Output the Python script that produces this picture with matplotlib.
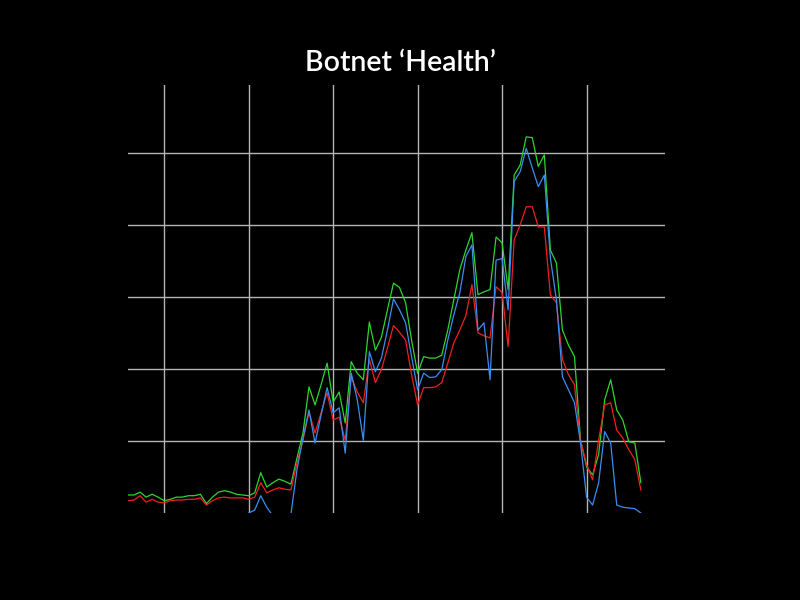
import numpy as np
import matplotlib
matplotlib.use('Agg')
from matplotlib import pyplot as plt

# daily samples, three series (no axis labels on the original)
days = np.arange(86)

green = [0.25, 0.25, 0.29, 0.22, 0.26, 0.22, 0.17, 0.19, 0.22, 0.22,
         0.24, 0.24, 0.26, 0.13, 0.22, 0.29, 0.31, 0.29, 0.26, 0.25,
         0.24, 0.28, 0.56, 0.36, 0.42, 0.47, 0.44, 0.40, 0.76, 1.11,
         1.75, 1.50, 1.78, 2.08, 1.54, 1.68, 1.25, 2.10, 1.94, 1.85,
         2.65, 2.26, 2.44, 2.82, 3.19, 3.13, 2.92, 2.40, 1.94, 2.17,
         2.15, 2.15, 2.19, 2.54, 2.96, 3.38, 3.65, 3.89, 3.03, 3.07,
         3.10, 3.83, 3.75, 3.10, 4.69, 4.83, 5.22, 5.21, 4.81, 4.97,
         3.65, 3.47, 2.54, 2.33, 2.17, 1.01, 0.64, 0.53, 0.81, 1.57,
         1.85, 1.43, 1.29, 0.99, 0.97, 0.42]

red = [0.17, 0.18, 0.24, 0.15, 0.19, 0.15, 0.14, 0.17, 0.18, 0.18,
       0.19, 0.19, 0.21, 0.11, 0.17, 0.21, 0.22, 0.21, 0.21, 0.21,
       0.19, 0.22, 0.42, 0.28, 0.32, 0.35, 0.33, 0.32, 0.69, 1.01,
       1.40, 1.11, 1.39, 1.67, 1.29, 1.33, 1.01, 1.89, 1.68, 1.53,
       2.13, 1.81, 1.99, 2.29, 2.60, 2.51, 2.40, 1.92, 1.50, 1.74,
       1.74, 1.75, 1.81, 2.08, 2.36, 2.54, 2.74, 3.17, 2.50, 2.46,
       2.43, 3.14, 3.06, 2.31, 3.79, 4.00, 4.25, 4.25, 3.97, 3.97,
       3.03, 2.92, 2.13, 1.92, 1.78, 1.01, 0.67, 0.46, 1.01, 1.50,
       1.53, 1.15, 1.04, 0.88, 0.74, 0.32]

blue = [-0.18, -0.17, -0.11, -0.20, -0.16, -0.20, -0.21, -0.18, -0.17, -0.17,
        -0.16, -0.16, -0.14, -0.24, -0.18, -0.14, -0.13, -0.14, -0.14, -0.14,
        0.00, 0.04, 0.24, 0.08, -0.04, -0.17, -0.17, -0.02, 0.60, 1.04,
        1.43, 0.97, 1.36, 1.74, 1.39, 1.46, 0.83, 1.94, 1.57, 1.01,
        2.24, 1.96, 2.15, 2.54, 2.97, 2.82, 2.64, 2.17, 1.71, 1.94,
        1.88, 1.89, 1.99, 2.40, 2.75, 3.06, 3.56, 3.72, 2.54, 2.64,
        1.85, 3.51, 3.53, 2.82, 4.60, 4.74, 5.06, 4.79, 4.53, 4.69,
        3.54, 2.96, 1.89, 1.71, 1.53, 0.97, 0.22, 0.11, 0.42, 1.13,
        0.97, 0.11, 0.08, 0.07, 0.06, 0.00]

grid_days = [6, 20, 34, 48, 62, 76]
grid_levels = [1, 2, 3, 4, 5]

fig = plt.figure(figsize=(8, 6), dpi=100, facecolor='black')
ax = fig.add_axes([0.16, 0.145, 0.67125, 0.7133])
ax.set_facecolor('black')

ax.plot(days, green, color='#2ed62e', lw=0.9)
ax.plot(days, red, color='#f02020', lw=0.9)
ax.plot(days, blue, color='#3a8ef0', lw=0.9)

ax.set_xlim(0, 89)
ax.set_ylim(0, 5.94)
ax.set_xticks(grid_days)
ax.set_yticks(grid_levels)
ax.grid(True, color='#b4b4b4', lw=1.0)
ax.set_axisbelow(True)
ax.tick_params(length=0, labelbottom=False, labelleft=False)
for s in ax.spines.values():
    s.set_visible(False)

fig.text(0.5, 0.895, 'Botnet \u2018Health\u2019', color='white', ha='center',
         va='center', fontsize=20.5, fontweight='semibold',
         family=['Lato', 'DejaVu Sans'])

fig.savefig('out.png', dpi=100, facecolor='black')
